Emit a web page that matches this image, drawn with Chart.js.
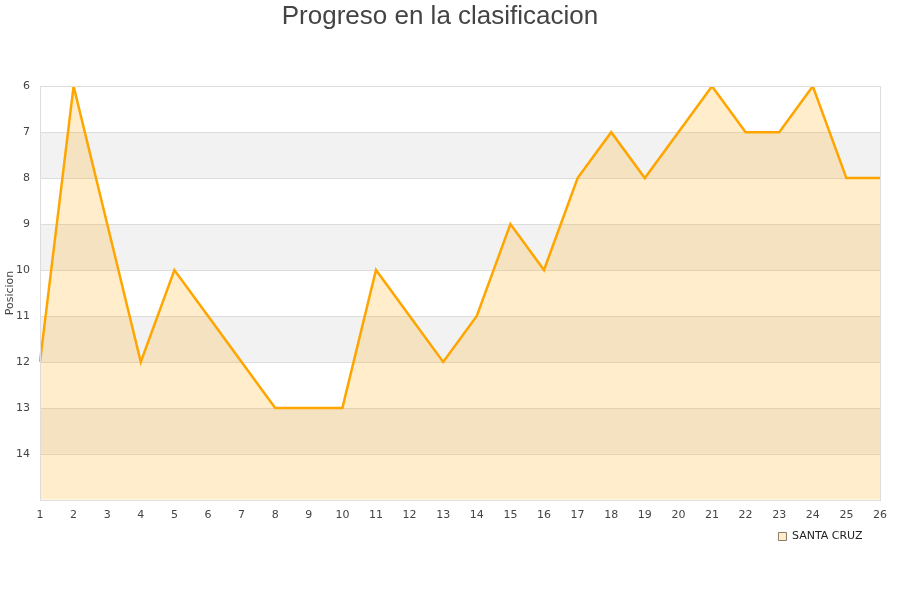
<!DOCTYPE html>
<html><head><meta charset="utf-8">
<script src="https://cdn.jsdelivr.net/npm/chart.js@4.4.0/dist/chart.umd.min.js"></script>
<style>html,body{margin:0;padding:0;background:#fff}#w{width:900px;height:600px}</style>
</head><body><div id="w"><canvas id="c" width="900" height="600"></canvas></div>
<script>
const jornadas = ['1','2','3','4','5','6','7','8','9','10','11','12','13','14','15','16','17','18','19','20','21','22','23','24','25','26'];
const posiciones = [12,6,9,12,10,11,12,13,13,13,10,11,12,11,9,10,8,7,8,7,6,7,7,6,8,8];
const equipo = 'SANTA CRUZ';
const titulo = 'Progreso en la clasificacion';
const ejeY = 'Posicion';
const bandas = [[7,8],[9,10],[11,12],[13,14]];

const bandPlugin = {
  id: 'bands',
  beforeDatasetsDraw(chart) {
    const {ctx, chartArea: a, scales: {y}} = chart;
    ctx.save();
    ctx.fillStyle = '#f2f2f2';
    bandas.forEach(([f, t]) => {
      const y1 = y.getPixelForValue(f), y2 = y.getPixelForValue(t);
      ctx.fillRect(a.left, Math.min(y1, y2), a.right - a.left, Math.abs(y2 - y1));
    });
    ctx.strokeStyle = '#dddddd';
    ctx.lineWidth = 1;
    y.ticks.forEach(tk => {
      const p = Math.round(y.getPixelForValue(tk.value)) + 0.5;
      ctx.beginPath(); ctx.moveTo(a.left, p); ctx.lineTo(a.right, p); ctx.stroke();
    });
    ctx.restore();
  },
  afterDraw(chart) {
    const {ctx, chartArea: a} = chart;
    ctx.save();
    ctx.strokeStyle = '#dddddd';
    ctx.lineWidth = 1;
    ctx.strokeRect(Math.round(a.left) + 0.5, Math.round(a.top) + 0.5, Math.round(a.right - a.left), Math.round(a.bottom - a.top));
    ctx.restore();
  }
};

new Chart(document.getElementById('c'), {
  type: 'line',
  data: {
    labels: jornadas,
    datasets: [{
      label: equipo,
      data: posiciones,
      borderColor: '#ffa500',
      backgroundColor: 'rgba(255,165,0,0.2)',
      borderWidth: 2.5,
      fill: 'start',
      pointRadius: 0,
      tension: 0
    }]
  },
  options: {
    responsive: false,
    animation: false,
    layout: { padding: { left: 0, right: 20, top: 0, bottom: 48 } },
    plugins: {
      title: {
        display: true, text: titulo, color: '#444444',
        font: { family: '"Liberation Sans", Arial, sans-serif', size: 26, weight: 'normal' },
        padding: { top: 1, bottom: 54 }
      },
      legend: {
        position: 'bottom', align: 'end',
        labels: {
          color: '#222', boxWidth: 8, boxHeight: 8, padding: 0,
          font: { family: '"DejaVu Sans", sans-serif', size: 11 },
          generateLabels(chart) {
            const d = chart.data.datasets[0];
            return [{ text: d.label + '     ', fillStyle: 'rgba(255,165,0,0.2)', strokeStyle: '#8a7a66', lineWidth: 1, datasetIndex: 0, fontColor: '#222' }];
          }
        }
      },
      tooltip: { enabled: false }
    },
    scales: {
      x: {
        offset: false,
        grid: { display: false, drawTicks: false },
        border: { display: false },
        ticks: { color: '#444', padding: 9, maxRotation: 0, autoSkip: false, font: { family: '"DejaVu Sans", sans-serif', size: 11 } }
      },
      y: {
        reverse: true, min: 6, max: 15,
        afterFit(s) { s.width = 40; },
        grid: { display: false, drawTicks: false },
        border: { display: false },
        title: { display: true, text: ejeY, color: '#444', font: { family: '"DejaVu Sans", sans-serif', size: 11 }, padding: 4 },
        ticks: {
          stepSize: 1, padding: 10, color: '#444',
          font: { family: '"DejaVu Sans", sans-serif', size: 11 },
          callback: v => (v >= 15 ? '' : v)
        }
      }
    }
  },
  plugins: [bandPlugin]
});
</script></body></html>
